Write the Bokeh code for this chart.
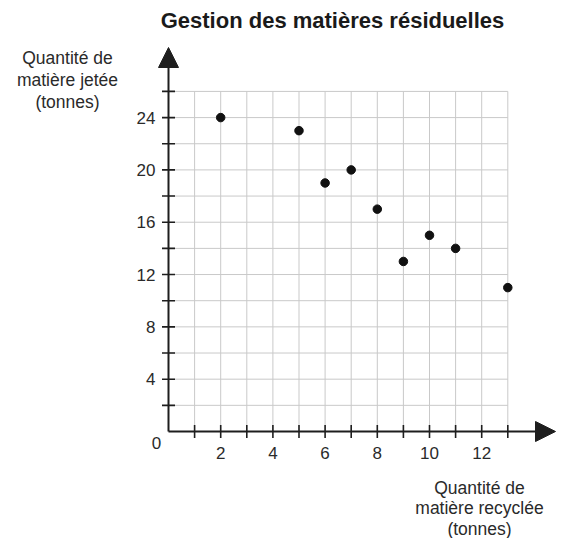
import math
from bokeh.plotting import figure
from bokeh.models import Arrow, NormalHead
from bokeh.core.properties import value
from bokeh.embed import file_html
from bokeh.resources import INLINE

# Data
recycled = [2, 5, 6, 7, 8, 9, 10, 11, 13]
thrown = [24, 23, 19, 20, 17, 13, 15, 14, 11]

x_ticks = list(range(1, 14))
x_labels = [2, 4, 6, 8, 10, 12]
y_ticks = list(range(2, 27, 2))
y_labels = [4, 8, 12, 16, 20, 24]

title_text = "Gestion des matières résiduelles"
y_title = ["Quantité de", "matière jetée", "(tonnes)"]
x_title = ["Quantité de", "matière recyclée", "(tonnes)"]

FONT = value("Liberation Sans")
TXT = "#2a2a2a"
AX = "#1e1e1e"
GRID = "#c9c9c9"

W, H = 556, 538
ox, oy = 168.0, 431.0          # pixel position of the origin
sx, sy = 26.1, 13.08           # pixels per unit

p = figure(width=W, height=H, min_border=0,
           x_range=(-ox / sx, (W - ox) / sx),
           y_range=((oy - H) / sy, oy / sy),
           output_backend="svg", toolbar_location=None, tools="")
p.axis.visible = False
p.grid.visible = False
p.outline_line_color = None
p.background_fill_color = "white"
p.border_fill_color = "white"

x_tip = (555 - ox) / sx
y_tip = (oy - 47) / sy

# grid lines
gy_top = max(y_ticks)
gx_right = max(x_ticks)
p.segment(x0=x_ticks, y0=[0] * len(x_ticks), x1=x_ticks, y1=[gy_top] * len(x_ticks),
          line_color=GRID, line_width=1)
p.segment(x0=[0] * len(y_ticks), y0=y_ticks, x1=[gx_right] * len(y_ticks), y1=y_ticks,
          line_color=GRID, line_width=1)

# axis lines with arrow heads
p.segment(x0=[0, 0], y0=[0, 0], x1=[x_tip - 0.5, 0], y1=[0, y_tip - 1.0],
          line_color=AX, line_width=2)
p.add_layout(Arrow(end=NormalHead(size=20, fill_color=AX, line_color=AX, line_width=1),
                   x_start=0, y_start=0, x_end=x_tip, y_end=0, line_color=None))
p.add_layout(Arrow(end=NormalHead(size=20, fill_color=AX, line_color=AX, line_width=1),
                   x_start=0, y_start=0, x_end=0, y_end=y_tip, line_color=None))

# tick marks crossing the axes
p.scatter(x=x_ticks, y=[0] * len(x_ticks), marker="dash", angle=math.pi / 2, size=13,
          line_color=AX, line_width=1.6)
p.scatter(x=[0] * len(y_ticks), y=y_ticks, marker="dash", size=13,
          line_color=AX, line_width=1.6)

# tick labels
p.text(x=x_labels, y=[0] * len(x_labels), text=[str(v) for v in x_labels],
       text_align="center", text_baseline="middle", y_offset=21,
       text_font=FONT, text_font_size="17px", text_color=TXT)
p.text(x=[0] * len(y_labels), y=y_labels, text=[str(v) for v in y_labels],
       text_align="right", text_baseline="middle", x_offset=-13,
       text_font=FONT, text_font_size="17px", text_color=TXT)
p.text(x=[0], y=[0], text=["0"], text_align="center", text_baseline="middle",
       x_offset=-12, y_offset=11,
       text_font=FONT, text_font_size="17px", text_color=TXT)

# points
p.scatter(recycled, thrown, size=8.5, fill_color="#111111", line_color="#111111")

# titles
p.text(x=[(332 - ox) / sx], y=[(oy - 20) / sy], text=[title_text],
       text_align="center", text_baseline="middle",
       text_font=FONT, text_font_size="22px", text_font_style="bold", text_color="#1a1a1a")
p.text(x=[(67 - ox) / sx] * 3, y=[(oy - v) / sy for v in (57, 79.5, 101.5)], text=y_title,
       text_align="center", text_baseline="middle",
       text_font=FONT, text_font_size="17.5px", text_color=TXT)
p.text(x=[(479 - ox) / sx] * 3, y=[(oy - v) / sy for v in (487, 507.5, 528)], text=x_title,
       text_align="center", text_baseline="middle",
       text_font=FONT, text_font_size="17.5px", text_color=TXT)

open("out.html", "w").write(file_html(p, INLINE))
